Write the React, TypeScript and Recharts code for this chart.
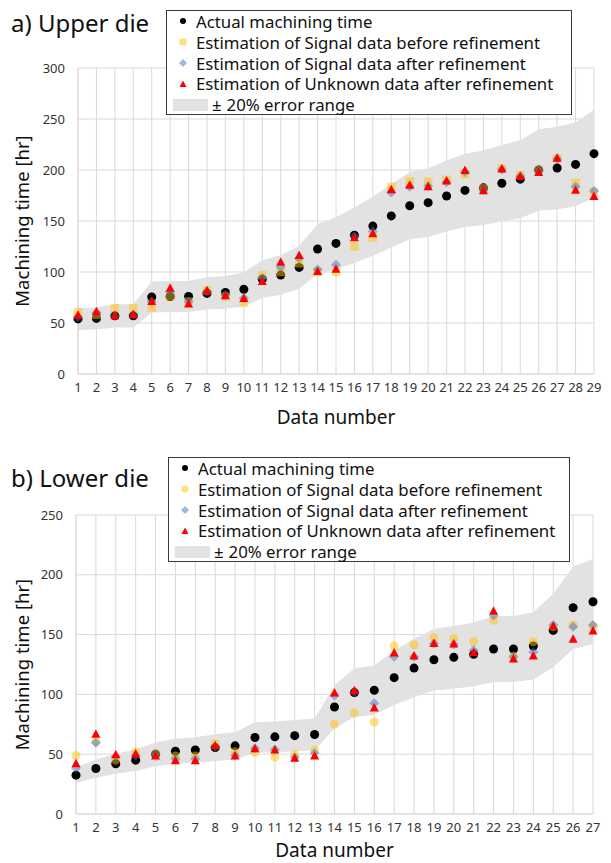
import React from 'react';
import { ComposedChart, Area, Scatter, XAxis, YAxis, CartesianGrid, Label } from 'recharts';

// ---------- Upper die ----------
const upperNumbers = [1, 2, 3, 4, 5, 6, 7, 8, 9, 10, 11, 12, 13, 14, 15, 16, 17, 18, 19, 20, 21, 22, 23, 24, 25, 26, 27, 28, 29];
const upperActual = [54, 54.5, 57, 57, 75.5, 76, 76, 79, 80, 83, 93, 97, 104.5, 122.5, 128, 136, 145, 155, 165, 168, 174.5, 180, 182.5, 187, 191, 200, 202, 205.5, 216];
const upperBefore = [60.5, 58, 64.5, 64.5, 65, 76, 71, 82, 76, 70, 97, 100, 108.5, 100, 100, 125, 134, 183.5, 189, 188.5, 190.5, 196, 182, 201.5, 195, 200, 211.5, 187.5, 178.5];
const upperAfter = [56, 60, 57, 58, 71, 81, 71, 81, 77.5, 74.5, 94, 105, 113.5, 102.5, 107, 135, 140, 178, 183.5, 184, 188, 198, 180.5, 200.5, 194, 199, 211, 183.5, 179.5];
const upperUnknown = [57.5, 61, 57, 58, 71, 84, 68.5, 81.5, 76.5, 74, 90.5, 109.5, 116, 100.5, 102.5, 133.5, 137.5, 180.5, 185, 183.5, 189, 199.5, 179.5, 201, 193.5, 197.5, 211.5, 180, 174];
const upperYTicks = [0, 50, 100, 150, 200, 250, 300];

// ---------- Lower die ----------
const lowerNumbers = [1, 2, 3, 4, 5, 6, 7, 8, 9, 10, 11, 12, 13, 14, 15, 16, 17, 18, 19, 20, 21, 22, 23, 24, 25, 26, 27];
const lowerActual = [32.5, 38, 42, 45, 50, 52.5, 53.5, 55.5, 57, 64, 64.5, 65.5, 66.5, 89.5, 101.5, 103.5, 114, 122, 129, 131, 133.5, 138, 138, 140.5, 153.5, 172.5, 177.5];
const lowerBefore = [49, 60.5, 45, 52, 50.5, 48.5, 48.5, 59, 52, 51.5, 47.5, 50, 53.5, 75, 84.5, 77, 140.5, 141.5, 147.5, 147, 144, 162, 132, 144, 156.5, 158, 156.5];
const lowerAfter = [38.5, 59.5, 48, 49, 50, 46, 46, 56, 49, 55, 54, 47.5, 51, 99, 102, 92.5, 131.5, 131.5, 142.5, 142, 137, 166, 131.5, 135.5, 158, 156.5, 158];
const lowerUnknown = [42, 66.5, 49.5, 50, 48.5, 44.5, 44.5, 57, 48.5, 54.5, 53.5, 46.5, 48.5, 101, 103, 88.5, 134.5, 132, 142.5, 142, 135, 169.5, 129.5, 132, 157, 146, 153];
const lowerYTicks = [0, 50, 100, 150, 200, 250];

const ERROR_RATE = 0.2;

const legendLabels = [
  'Actual machining time',
  'Estimation of Signal data before refinement',
  'Estimation of Signal data after refinement',
  'Estimation of Unknown data after refinement',
];

const FONT = '"Noto Sans", sans-serif';
const GRID = '#d9d9d9';
const BAND = '#e2e2e2';
const YELLOW = '#FFC000';
const BLUE = '#4472C4';
const RED = '#FF0000';

function buildRows(nums: number[], actual: number[], before: number[], after: number[], unknown: number[]) {
  return nums.map((n, i) => ({
    x: n,
    actual: actual[i],
    before: before[i],
    after: after[i],
    unknown: unknown[i],
    band: [actual[i] * (1 - ERROR_RATE), actual[i] * (1 + ERROR_RATE)],
  }));
}

const upperRows = buildRows(upperNumbers, upperActual, upperBefore, upperAfter, upperUnknown);
const lowerRows = buildRows(lowerNumbers, lowerActual, lowerBefore, lowerAfter, lowerUnknown);

const circleShape = (fill: string, r: number, op = 1) => (p: any) =>
  p.cx == null ? <g /> : <circle cx={p.cx} cy={p.cy} r={r} fill={fill} fillOpacity={op} />;
const squareShape = (fill: string, s: number, op = 1) => (p: any) =>
  p.cx == null ? <g /> : <rect x={p.cx - s / 2} y={p.cy - s / 2} width={s} height={s} fill={fill} fillOpacity={op} />;
const diamondShape = (fill: string, s: number, op = 1) => (p: any) =>
  p.cx == null ? (
    <g />
  ) : (
    <polygon
      points={`${p.cx},${p.cy - s / 2} ${p.cx + s / 2},${p.cy} ${p.cx},${p.cy + s / 2} ${p.cx - s / 2},${p.cy}`}
      fill={fill}
      fillOpacity={op}
    />
  );
const triangleShape = (fill: string, w: number, h: number) => (p: any) =>
  p.cx == null ? (
    <g />
  ) : (
    <polygon
      points={`${p.cx},${p.cy - h * 0.6} ${p.cx + w / 2},${p.cy + h * 0.4} ${p.cx - w / 2},${p.cy + h * 0.4}`}
      fill={fill}
    />
  );

function Panel({
  rows,
  nums,
  yTicks,
  yMax,
  width,
  height,
  margin,
  yAxisWidth,
  xAxisHeight,
  yellowCircle,
  yLabelOffset,
  xLabelOffset,
}: any) {
  return (
    <ComposedChart width={width} height={height} data={rows} margin={margin}>
      <CartesianGrid stroke={GRID} strokeWidth={1} vertical horizontal />
      <XAxis
        dataKey="x"
        type="number"
        domain={[nums[0], nums[nums.length - 1]]}
        ticks={nums}
        interval={0}
        height={xAxisHeight}
        axisLine={{ stroke: GRID }}
        tickLine={false}
        tickSize={0}
        tickMargin={9}
        tick={{ fill: '#333', fontSize: 13, fontFamily: FONT }}
      >
        <Label
          value="Data number"
          position="insideBottom"
          offset={xLabelOffset}
          style={{ fill: '#111', fontSize: 19, fontFamily: FONT }}
        />
      </XAxis>
      <YAxis
        type="number"
        domain={[0, yMax]}
        ticks={yTicks}
        width={yAxisWidth}
        axisLine={{ stroke: GRID }}
        tickLine={false}
        tickSize={0}
        tickMargin={13}
        tick={{ fill: '#333', fontSize: 13, fontFamily: FONT }}
      >
        <Label
          value="Machining time [hr]"
          angle={-90}
          position="insideLeft"
          offset={yLabelOffset}
          style={{ fill: '#111', fontSize: 18.5, fontFamily: FONT, textAnchor: 'middle' }}
        />
      </YAxis>
      <Area dataKey="band" type="linear" fill={BAND} fillOpacity={1} stroke="none" isAnimationActive={false} />
      <Scatter dataKey="actual" shape={circleShape('#000', 4.5)} isAnimationActive={false} />
      <Scatter
        dataKey="before"
        shape={yellowCircle ? circleShape(YELLOW, 4.5, 0.5) : squareShape(YELLOW, 8.5, 0.5)}
        isAnimationActive={false}
      />
      <Scatter dataKey="after" shape={diamondShape(BLUE, 10, 0.5)} isAnimationActive={false} />
      <Scatter dataKey="unknown" shape={triangleShape(RED, 9, 8.5)} isAnimationActive={false} />
    </ComposedChart>
  );
}

function LegendBox({ left, top, width, height, yellowCircle }: any) {
  const rowH = 20.8;
  const markers = [
    <circle cx={16} cy={6} r={3} fill="#000" />,
    yellowCircle ? (
      <circle cx={16} cy={6} r={3.5} fill={YELLOW} fillOpacity={0.5} />
    ) : (
      <rect x={12.5} y={2.5} width={7} height={7} fill={YELLOW} fillOpacity={0.5} />
    ),
    <polygon points="16,2 20,6 16,10 12,6" fill={BLUE} fillOpacity={0.5} />,
    <polygon points="16,2.5 19.5,9 12.5,9" fill={RED} />,
  ];
  return (
    <div
      style={{
        position: 'absolute',
        left,
        top,
        width,
        height,
        border: '1px solid #3a3a3a',
        background: '#fff',
        boxSizing: 'border-box',
        fontFamily: FONT,
        fontSize: 16.8,
        color: '#111',
      }}
    >
      {legendLabels.map((t, i) => (
        <div key={i} style={{ position: 'absolute', left: 0, top: i * rowH, height: rowH, display: 'flex', alignItems: 'center' }}>
          <svg width={29} height={12} style={{ display: 'block' }}>
            {markers[i]}
          </svg>
          <span style={{ whiteSpace: 'nowrap' }}>{t}</span>
        </div>
      ))}
      <div style={{ position: 'absolute', left: 0, top: 4 * rowH, height: rowH, display: 'flex', alignItems: 'center' }}>
        <svg width={45} height={14} style={{ display: 'block' }}>
          <rect x={6} y={1} width={35} height={12} fill={BAND} />
        </svg>
        <span style={{ whiteSpace: 'nowrap' }}>
          <span style={{ marginRight: 5 }}>±</span>20% error range
        </span>
      </div>
    </div>
  );
}

export default function App() {
  return (
    <div style={{ position: 'absolute', left: 0, top: 0, width: 611, height: 863, background: '#fff', overflow: 'hidden' }}>
      <div style={{ position: 'absolute', left: 0, top: 0 }}>
        <Panel
          rows={upperRows}
          nums={upperNumbers}
          yTicks={upperYTicks}
          yMax={300}
          width={611}
          height={432}
          margin={{ top: 68, right: 17, bottom: 0, left: 0 }}
          yAxisWidth={78}
          xAxisHeight={58}
          yellowCircle={false}
          yLabelOffset={22}
          xLabelOffset={8}
        />
      </div>
      <div style={{ position: 'absolute', left: 0, top: 440 }}>
        <Panel
          rows={lowerRows}
          nums={lowerNumbers}
          yTicks={lowerYTicks}
          yMax={250}
          width={611}
          height={423}
          margin={{ top: 75, right: 18, bottom: 0, left: 0 }}
          yAxisWidth={76}
          xAxisHeight={49}
          yellowCircle={true}
          yLabelOffset={22}
          xLabelOffset={6}
        />
      </div>
      <div style={{ position: 'absolute', left: 11, top: 7, fontFamily: FONT, fontSize: 24, color: '#111', lineHeight: '32px' }}>
        a) Upper die
      </div>
      <div style={{ position: 'absolute', left: 11, top: 462, fontFamily: FONT, fontSize: 24, color: '#111', lineHeight: '32px' }}>
        b) Lower die
      </div>
      <LegendBox left={166} top={10} width={406} height={105} yellowCircle={false} />
      <LegendBox left={168} top={457} width={402} height={105} yellowCircle={true} />
    </div>
  );
}
